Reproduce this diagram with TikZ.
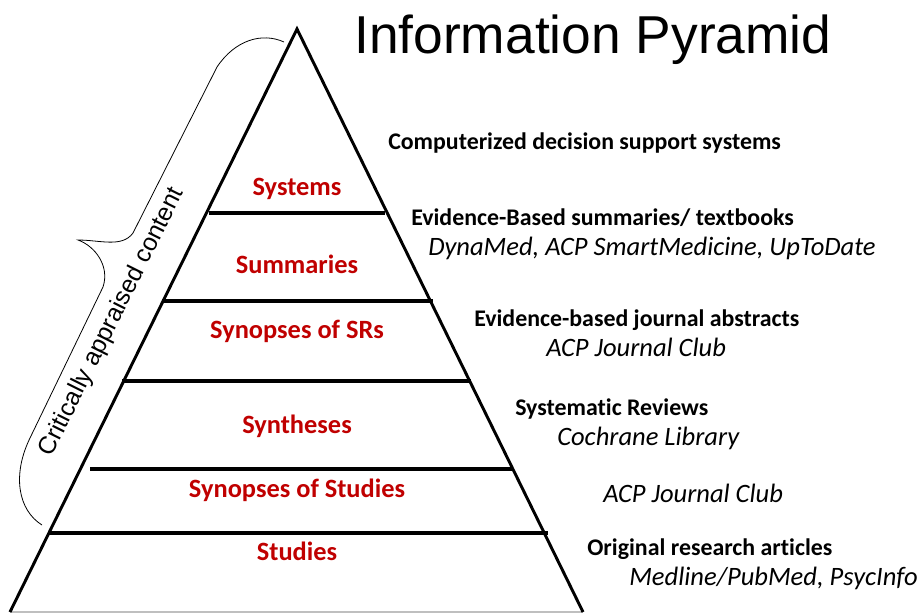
\documentclass[tikz,border=0pt]{standalone}
\usepackage{fontspec}
\setmainfont{Carlito}[Ligatures=CommonOff]
\newfontfamily\arialfont{Liberation Sans}
\definecolor{tierred}{RGB}{192,0,0}
\tikzset{
    tier/.style={anchor=base, font=\bfseries\fontsize{19.8}{22}\selectfont, text=tierred, inner sep=0pt},
    tierline/.style={-, line width=3.6pt, draw=black},
    side/.style={-, line width=2.2pt, draw=black, line join=miter},
    source/.style={anchor=base west, font=\bfseries\fontsize{17.9}{20}\selectfont, inner sep=0pt},
    tool/.style={anchor=base west, font=\itshape\fontsize{19.9}{22}\selectfont, inner sep=0pt},
    bracket/.style={-, line width=0.6pt, draw=black},
}

\begin{document}
\begin{tikzpicture}[x=0.75pt, y=-0.75pt]
    \useasboundingbox (0,0) rectangle (920,612);
    % pyramid outline
    \coordinate (apex) at (297,29);
    \coordinate (baseL) at (10,612);
    \coordinate (baseR) at (583,612);
    \draw[black!25, line width=0.8pt] (baseL) -- (baseR);
    \draw[side] (baseL) -- (apex) -- (baseR);
    % tier dividers
    \draw[tierline] (209,213) -- (385,213);
    \draw[tierline] (162,301) -- (433,301);
    \draw[tierline] (122,381) -- (471,381);
    \draw[tierline] (90,469) -- (513,469);
    \draw[tierline] (49,533) -- (548,533);
    % tier names
    \node[tier] (systems) at (297,195) {Systems};
    \node[tier] (summaries) at (297,273) {Summaries};
    \node[tier] (synsr) at (297,338) {Synopses of SRs};
    \node[tier] (syntheses) at (297,433) {Syntheses};
    \node[tier] (synstudies) at (297,497) {Synopses of Studies};
    \node[tier] (studies) at (297,560) {Studies};
    % sources on the right
    \node[source] (cdss) at (388,149) {Computerized decision support systems};
    \node[source] (ebs) at (411,225) {Evidence-Based summaries/ textbooks};
    \node[tool] (ebstool) at (428,255) {DynaMed, ACP SmartMedicine, UpToDate};
    \node[source] (ebj) at (474,326) {Evidence-based journal abstracts};
    \node[tool] (ebjtool) at (546,356) {ACP Journal Club};
    \node[source] (sr) at (515,415) {Systematic Reviews};
    \node[tool] (srtool) at (557,445) {Cochrane Library};
    \node[tool] (sstool) at (603,502) {ACP Journal Club};
    \node[source] (ora) at (587,555) {Original research articles};
    \node[tool] (oratool) at (629,585) {Medline/PubMed, PsycInfo};
    % title and brace
    \node[anchor=base west, inner sep=0pt, font=\arialfont\fontsize{40}{44}\selectfont] (title) at (354,53) {Information Pyramid};
    \coordinate (braceLow) at (42,525);
    \coordinate (braceHigh) at (284,42);
    \coordinate (braceTip) at (78,240);
    \draw[bracket] (braceHigh) .. controls (262,32) and (235,40) .. (217,67)
        -- (133,233) .. controls (122,248) and (100,240) .. (braceTip)
        .. controls (95,246) and (110,266) .. (103,287)
        -- (30,438) .. controls (12,475) and (18,510) .. (braceLow);
    \node[rotate=63.5, inner sep=0pt, font=\arialfont\fontsize{18.5}{20}\selectfont] (appraised) at (112,322) {Critically appraised content};
\end{tikzpicture}
\end{document}
